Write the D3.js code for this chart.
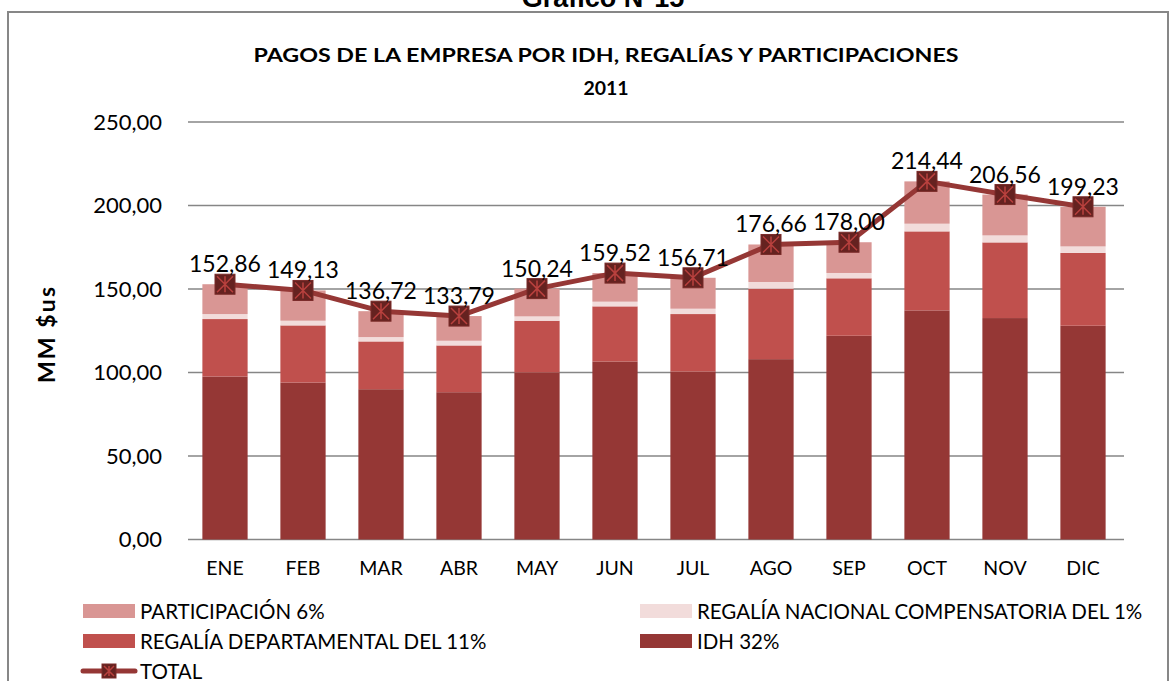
<!DOCTYPE html>
<html>
<head>
<meta charset="utf-8">
<script src="https://cdn.jsdelivr.net/npm/d3@7"></script>
<style>
  body { margin: 0; background: #fff; }
  svg text { font-family: Lato, "Open Sans", sans-serif; fill: #000; }
</style>
</head>
<body>
<div class="chart"></div>
<script>
const months = ["ENE", "FEB", "MAR", "ABR", "MAY", "JUN", "JUL", "AGO", "SEP", "OCT", "NOV", "DIC"];
const idh = [97.6, 94.0, 90.0, 88.2, 100.0, 106.6, 100.6, 108.0, 122.0, 137.2, 132.6, 128.0];
const regDepartamental = [34.4, 34.2, 28.6, 28.0, 31.0, 33.0, 34.4, 42.2, 34.4, 47.3, 45.3, 43.6];
const regNacional = [3.0, 2.8, 2.6, 2.8, 2.6, 2.8, 3.2, 4.0, 3.2, 4.6, 4.2, 3.9];
const participacion = [17.86, 18.13, 15.52, 14.79, 16.64, 17.12, 18.51, 22.46, 18.4, 25.34, 24.46, 23.73];
const total = [152.86, 149.13, 136.72, 133.79, 150.24, 159.52, 156.71, 176.66, 178.00, 214.44, 206.56, 199.23];
const yTicks = [0, 50, 100, 150, 200, 250];

const seriesNames = ["IDH 32%", "REGALÍA DEPARTAMENTAL DEL 11%", "REGALÍA NACIONAL COMPENSATORIA DEL 1%", "PARTICIPACIÓN 6%"];
const seriesColors = ["#953735", "#C0504D", "#F2DCDB", "#D99694"];

const w = 1173, h = 681;
const plotLeft = 186, plotRight = 1122, plotTop = 122, plotBottom = 539.5;

const svg = d3.select(".chart").append("svg")
  .attr("width", w).attr("height", h);

// outer frame
svg.append("rect")
  .attr("x", 8).attr("y", 12).attr("width", 1160).attr("height", 700)
  .attr("fill", "none").attr("stroke", "#878787").attr("stroke-width", 2);

svg.append("text")
  .attr("x", 603).attr("y", 7)
  .attr("text-anchor", "middle")
  .style("font-family", "Liberation Sans, Arial, sans-serif")
  .style("font-weight", "bold").style("font-size", "27px")
  .text("Gráfico N°15");

svg.append("text")
  .attr("x", 606).attr("y", 62)
  .attr("text-anchor", "middle")
  .attr("textLength", 705).attr("lengthAdjust", "spacingAndGlyphs")
  .style("font-weight", "bold").style("font-size", "19.5px")
  .text("PAGOS DE LA EMPRESA POR IDH, REGALÍAS Y PARTICIPACIONES");
svg.append("text")
  .attr("x", 606).attr("y", 95)
  .attr("text-anchor", "middle")
  .style("font-weight", "bold").style("font-size", "19.5px")
  .text("2011");

const x = d3.scaleBand().domain(months).range([plotLeft, plotRight]).paddingInner(0.42).paddingOuter(0.21);
const y = d3.scaleLinear().domain([0, 250]).range([plotBottom, plotTop]);

// gridlines
svg.append("g").selectAll("line")
  .data(yTicks)
  .enter().append("line")
  .attr("x1", plotLeft + 2).attr("x2", plotRight + 2)
  .attr("y1", d => y(d)).attr("y2", d => y(d))
  .attr("stroke", "#868686").attr("stroke-width", 1.5);

const yAxis = d3.axisLeft(y).tickValues(yTicks).tickSize(0).tickPadding(24)
  .tickFormat(d => d3.format(".2f")(d).replace(".", ","));
svg.append("g")
  .attr("transform", "translate(" + plotLeft + ",0)")
  .call(yAxis)
  .call(g => g.select(".domain").remove())
  .selectAll("text").style("font-size", "22px");

const xAxis = d3.axisBottom(x).tickSize(0).tickPadding(22);
svg.append("g")
  .attr("transform", "translate(0," + plotBottom + ")")
  .call(xAxis)
  .call(g => g.select(".domain").remove())
  .selectAll("text").style("font-size", "19.5px");

svg.append("text")
  .attr("transform", "translate(55,335) rotate(-90)")
  .attr("text-anchor", "middle")
  .attr("textLength", 96).attr("lengthAdjust", "spacing")
  .style("font-weight", "bold").style("font-size", "23px")
  .text("MM $us");

// stacked bars
const table = months.map((m, i) => ({
  month: m, s0: idh[i], s1: regDepartamental[i], s2: regNacional[i], s3: participacion[i]
}));
const stack = d3.stack().keys(["s0", "s1", "s2", "s3"]);
const layers = stack(table);

svg.append("g").selectAll("g")
  .data(layers)
  .enter().append("g")
  .attr("fill", (d, i) => seriesColors[i])
  .selectAll("rect")
  .data(d => d)
  .enter().append("rect")
  .attr("x", d => x(d.data.month))
  .attr("width", x.bandwidth())
  .attr("y", d => y(d[1]))
  .attr("height", d => y(d[0]) - y(d[1]));

// total line
const cx = (d, i) => x(months[i]) + x.bandwidth() / 2;
const line = d3.line().x((d, i) => cx(d, i)).y(d => y(d));
svg.append("path")
  .datum(total)
  .attr("d", line)
  .attr("fill", "none")
  .attr("stroke", "#953735")
  .attr("stroke-width", 5)
  .attr("stroke-linejoin", "round");

const drawMarker = (g, s) => {
  g.append("rect")
    .attr("x", -s / 2).attr("y", -s / 2).attr("width", s).attr("height", s)
    .attr("fill", "#652220").attr("stroke", "#7a2b29").attr("stroke-width", 1);
  const k = s / 2 - 2;
  const p = "M" + (-k) + "," + (-k) + "L" + k + "," + k +
            "M" + k + "," + (-k) + "L" + (-k) + "," + k +
            "M0," + (-k) + "L0," + k;
  g.append("path").attr("d", p).attr("stroke", "#b9413e").attr("stroke-width", 1.5);
};

svg.append("g").selectAll("g")
  .data(total)
  .enter().append("g")
  .attr("transform", (d, i) => "translate(" + cx(d, i) + "," + y(d) + ")")
  .each(function () { drawMarker(d3.select(this), 20); });

svg.append("g").selectAll("text")
  .data(total)
  .enter().append("text")
  .attr("x", (d, i) => cx(d, i))
  .attr("y", d => y(d) - 12)
  .attr("text-anchor", "middle")
  .style("font-size", "23px")
  .text(d => d3.format(".2f")(d).replace(".", ","));

// legend
const legendItems = [
  { name: seriesNames[3], color: seriesColors[3], x: 83, y: 611 },
  { name: seriesNames[2], color: seriesColors[2], x: 640, y: 611 },
  { name: seriesNames[1], color: seriesColors[1], x: 83, y: 641 },
  { name: seriesNames[0], color: seriesColors[0], x: 640, y: 641 }
];
const lg = svg.append("g").selectAll("g")
  .data(legendItems)
  .enter().append("g")
  .attr("transform", d => "translate(" + d.x + "," + d.y + ")");
lg.append("rect")
  .attr("x", 0).attr("y", -7).attr("width", 52).attr("height", 14)
  .attr("fill", d => d.color);
lg.append("text")
  .attr("x", 57).attr("y", 7.5)
  .style("font-size", "20.5px")
  .text(d => d.name);

const tl = svg.append("g").attr("transform", "translate(83,671)");
tl.append("line").attr("x1", 0).attr("x2", 52).attr("y1", 0).attr("y2", 0)
  .attr("stroke", "#953735").attr("stroke-width", 5).attr("stroke-linecap", "round");
const tm = tl.append("g").attr("transform", "translate(26,0)");
drawMarker(tm, 14);
tl.append("text").attr("x", 57).attr("y", 7.5).style("font-size", "20.5px").text("TOTAL");
</script>
</body>
</html>
